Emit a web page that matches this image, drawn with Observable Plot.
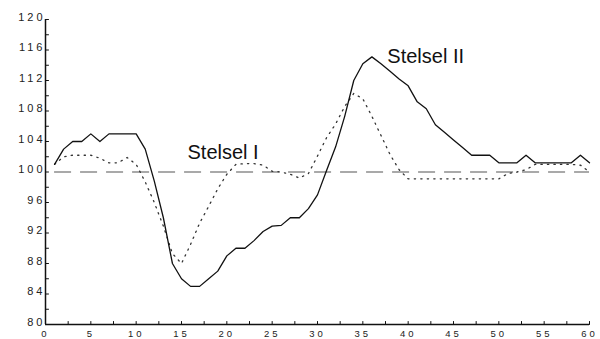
<!DOCTYPE html>
<html>
<head>
<meta charset="utf-8">
<script src="https://cdn.jsdelivr.net/npm/d3@7"></script>
<script src="https://cdn.jsdelivr.net/npm/@observablehq/plot@0.6"></script>
<style>
  html, body { margin: 0; padding: 0; background: #fff; }
  #chart svg { display: block; }
  .ytl text { letter-spacing: 3px; }
  .xtl text { letter-spacing: 3px; }
</style>
</head>
<body>
<div id="chart"></div>
<script>
// Periods 1..60
const periods = d3.range(1, 61);

// Stelsel II (solid line)
const stelselII = [
  101, 103, 104, 104, 105, 104, 105, 105, 105, 105,
  103, 98.8, 94, 88, 86, 85, 85, 86, 87, 89,
  90, 90, 91, 92.2, 92.9, 93, 94, 94, 95.2, 97,
  100.2, 103.3, 107.3, 112, 114.2, 115.1, 114.2, 113.2, 112.2, 111.3,
  109.2, 108.3, 106.2, 105.2, 104.2, 103.2, 102.2, 102.2, 102.2, 101.2,
  101.2, 101.2, 102.2, 101.2, 101.2, 101.2, 101.2, 101.2, 102.2, 101.2
];

// Stelsel I (dotted line)
const stelselI = [
  101, 102, 102.2, 102.2, 102.2, 101.8, 101.2, 101.2, 101.9, 101,
  98.7, 96, 92.9, 89.3, 88, 90.5, 93.3, 95.5, 97.8, 99.7,
  101, 101.1, 101.1, 100.9, 100.1, 100, 99.7, 99.2, 99.8, 102.1,
  104.5, 106.3, 108.6, 110.3, 109.6, 107.3, 104.8, 102.3, 100.3, 99.1,
  99.1, 99.1, 99.1, 99.1, 99.1, 99.1, 99.1, 99.1, 99.1, 99.1,
  99.8, 100, 100.3, 101, 101, 101, 101, 101, 100.9, 100
];

// Reference level (dashed line)
const baseline = 100;

// Tick labels
const yTickLabels = [80, 84, 88, 92, 96, 100, 104, 108, 112, 116, 120];
const xTickLabels = [0, 5, 10, 15, 20, 25, 30, 35, 40, 45, 50, 55, 60];
const yTickMarks = d3.range(80, 121, 2);
const xTickMarks = d3.range(0, 60.01, 2.5);

// Series labels (anchored in data coordinates)
const seriesNames = ["Stelsel I", "Stelsel II"];
const seriesLabelT = [15.66, 37.7];
const seriesLabelV = [102.6, 115.2];

const rowsII = periods.map((t, i) => ({t, v: stelselII[i]}));
const rowsI = periods.map((t, i) => ({t, v: stelselI[i]}));
const labels = seriesNames.map((name, i) => ({name, t: seriesLabelT[i], v: seriesLabelV[i]}));

const tickShape = {
  draw(context, l) { context.moveTo(0, 0); context.lineTo(0, -l); }
};

const chart = Plot.plot({
  width: 600,
  height: 339,
  marginLeft: 45,
  marginRight: 11,
  marginTop: 19,
  marginBottom: 15,
  x: {domain: [0, 60]},
  y: {domain: [80, 120]},
  style: {fontFamily: "Liberation Sans", fontSize: "11px", background: "#fff", color: "#111"},
  marks: [
    // axis lines
    Plot.ruleX([0], {stroke: "#111", strokeWidth: 1.5}),
    Plot.ruleY([80], {stroke: "#111", strokeWidth: 1.5}),
    // inward tick marks
    Plot.vector(yTickMarks, {y: d => d, frameAnchor: "left", rotate: 90, length: 3, anchor: "start", shape: tickShape, stroke: "#111", strokeWidth: 1}),
    Plot.vector(xTickMarks, {x: d => d, frameAnchor: "bottom", rotate: 0, length: 3, anchor: "start", shape: tickShape, stroke: "#111", strokeWidth: 1}),
    // tick labels
    Plot.axisY(yTickLabels, {tickSize: 0, tickPadding: 0, dy: -2.5, fontSize: 11, fontFamily: "Liberation Sans", className: "ytl", fill: "#222", label: null}),
    Plot.axisX(xTickLabels, {tickSize: 0, tickPadding: 6, fontSize: 9.5, fontFamily: "Liberation Sans", className: "xtl", fill: "#222", label: null}),
    // baseline
    Plot.ruleY([baseline], {x1: periods[0], x2: periods[periods.length - 1], stroke: "#555", strokeWidth: 1.2, strokeDasharray: "17,9"}),
    // series
    Plot.line(rowsI, {x: "t", y: "v", stroke: "#333", strokeWidth: 1.3, strokeDasharray: "1.3,5.2"}),
    Plot.line(rowsII, {x: "t", y: "v", stroke: "#111", strokeWidth: 1.3}),
    // series labels
    Plot.text(labels, {x: "t", y: "v", text: "name", textAnchor: "start", lineAnchor: "middle", fontFamily: "Liberation Sans", fontSize: 20, fill: "#111"})
  ]
});

document.getElementById("chart").appendChild(chart);
</script>
</body>
</html>
